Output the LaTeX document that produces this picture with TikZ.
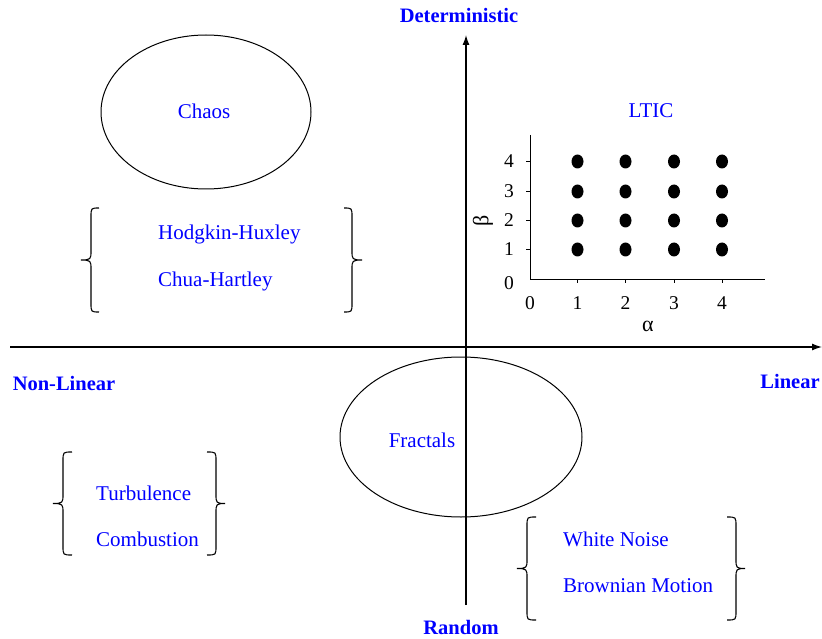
\documentclass[tikz,border=0pt]{standalone}
\usepackage{fontspec}
\setmainfont{Liberation Serif}
\usetikzlibrary{arrows.meta}
\begin{document}
\begin{tikzpicture}[x=1pt,y=-1pt,
  lbl/.style={text=blue,font=\fontsize{21}{24}\selectfont,inner sep=0pt},
  axlbl/.style={text=blue,font=\fontsize{20.5}{24}\selectfont\bfseries,inner sep=0pt,anchor=base},
  tick/.style={font=\fontsize{19.5}{22}\selectfont,inner sep=0pt},
  axis/.style={line width=1.3pt,-{Latex[length=10pt,width=7pt]}},
  brc/.style={line width=1.1pt}]
\useasboundingbox (0,0) rectangle (822,639);
% main axes
\coordinate (xl) at (10,347);
\coordinate (xr) at (822,347);
\coordinate (yb) at (466,605);
\coordinate (yt) at (466,35);
\draw[axis] (xl) -- (xr);
\draw[axis] (yb) -- (yt);
\node[axlbl] (det) at (459,23) {Deterministic};
\node[axlbl] (ran) at (461,634) {Random};
\node[axlbl] (nl) at (64,390) {Non-Linear};
\node[axlbl] (lin) at (790,388) {Linear};
% ellipses
\draw[line width=1pt] (206,112) ellipse [x radius=105, y radius=77];
\draw[line width=1pt] (461,437) ellipse [x radius=121, y radius=80];
\node[lbl,anchor=base] (chaos) at (204,119) {Chaos};
\node[lbl,anchor=base] (frac) at (422,447) {Fractals};
% braces
\def\leftbrace(#1,#2,#3,#4,#5){%
  \pgfmathsetmacro\mid{(#4+#5)/2}%
  \draw[brc] (#3,#4) .. controls (#2,#4) and (#2,#4) .. (#2,#4+9)
     -- (#2,\mid-9) .. controls (#2,\mid-1) and (#2,\mid) .. (#1,\mid)
     .. controls (#2,\mid) and (#2,\mid+1) .. (#2,\mid+9)
     -- (#2,#5-9) .. controls (#2,#5) and (#2,#5) .. (#3,#5);}
\leftbrace(81,91,99,208,312)
\leftbrace(362,352,344,208,312)
\leftbrace(53,63,72,452,555)
\leftbrace(225,216,207,452,555)
\leftbrace(517,527,536,517,620)
\leftbrace(745,736,727,517,620)
\node[lbl,anchor=base west] (hh) at (158,240) {Hodgkin-Huxley};
\node[lbl,anchor=base west] (ch) at (158,286) {Chua-Hartley};
\node[lbl,anchor=base west] (tu) at (96,500) {Turbulence};
\node[lbl,anchor=base west] (co) at (96,546) {Combustion};
\node[lbl,anchor=base west] (wn) at (563,546) {White Noise};
\node[lbl,anchor=base west] (bm) at (563,592) {Brownian Motion};
% LTIC plot
\node[lbl,anchor=base] (ltic) at (651,118) {LTIC};
\coordinate (o) at (530,279);
\coordinate (pxe) at (765,279);
\coordinate (pye) at (530,135);
\draw[line width=0.8pt] (pye) -- (o) -- (pxe);
\foreach \i/\x in {1/577.5,2/625.5,3/674,4/722} {
  \draw[line width=0.8pt] (\x,279) -- (\x,283);
  \node[tick] (xt\i) at (\x,303) {\i};
}
\node[tick] (xt0) at (530,303) {0};
\foreach \i/\y in {1/249.5,2/220.5,3/191.5,4/161.5} {
  \draw[line width=0.8pt] (530,\y) -- (526,\y);
  \node[tick] (yt\i) at (509,\y) {\i};
  \foreach \x in {577.5,625.5,674,722} {
    \fill (\x,\y) ellipse [x radius=6, y radius=7];
  }
}
\node[tick] (yt0) at (509,283) {0};
\node[tick,font=\fontsize{22}{24}\selectfont] (alpha) at (648,326) {α};
\node[tick,font=\fontsize{22}{24}\selectfont,rotate=90] (beta) at (483,221) {β};
\end{tikzpicture}
\end{document}
